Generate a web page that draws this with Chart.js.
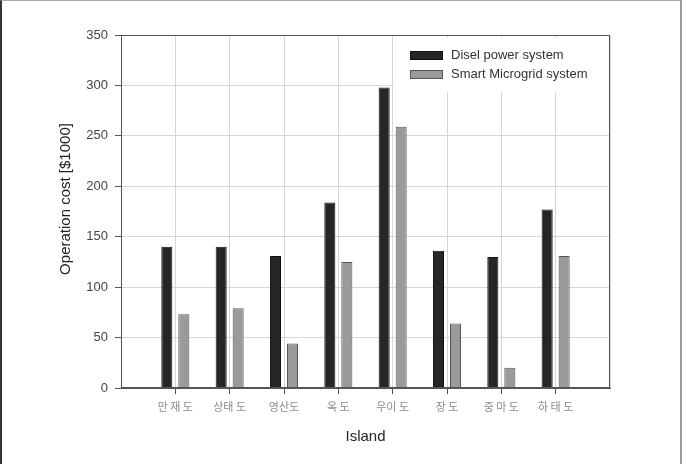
<!DOCTYPE html>
<html>
<head>
<meta charset="utf-8">
<script src="https://cdn.jsdelivr.net/npm/chart.js@4"></script>
<style>
  body { margin: 0; background: #fff; }
  #wrap { position: relative; width: 687px; height: 464px; }
  #frame {
    position: absolute; left: 0; top: 0; width: 682px; height: 464px;
    box-sizing: border-box; pointer-events: none;
    border-left: 2px solid #333; border-top: 1px solid #aaa; border-right: 2px solid #999;
  }
</style>
</head>
<body>
<div id="wrap">
  <canvas id="chart" width="687" height="464"></canvas>
  <div id="frame"></div>
</div>
<script>
const islands = ["만 재 도", "상태 도", "영산도", "옥 도", "우이 도", "장 도", "중 마 도", "하 태 도"];
const diselCost = [140, 140, 131, 184, 298, 136, 130, 177];
const microgridCost = [73, 79, 44, 125, 259, 64, 20, 131];
const seriesNames = ["Disel power system", "Smart Microgrid system"];
const yMin = 0;
const yMax = 350;
const yStep = 50;

const FONT = "'Liberation Sans', Arial, sans-serif";

function toPoints(values) {
  return values.map((v, i) => ({ x: i + 1, y: v }));
}

// legend sits inside the plot, top right, on a white patch over the grid
const insideLegend = {
  id: "insideLegend",
  afterDatasetsDraw(chart) {
    const ctx = chart.ctx;
    const area = chart.chartArea;
    ctx.save();
    ctx.fillStyle = "#fff";
    ctx.fillRect(394, area.top + 3, area.right - 394 - 1, 54);

    ctx.font = "13px " + FONT;
    ctx.textBaseline = "middle";
    chart.data.datasets.forEach((ds, i) => {
      const y = 55.5 + i * 19;
      ctx.fillStyle = ds.backgroundColor;
      ctx.strokeStyle = ds.borderColor;
      ctx.lineWidth = 1;
      ctx.fillRect(410, y - 4.5, 33, 9);
      ctx.strokeRect(410.5, y - 4, 32, 8);
      ctx.fillStyle = "#333";
      ctx.fillText(ds.label, 451, y);
    });

    // box round the plot
    ctx.strokeStyle = "#555";
    ctx.strokeRect(Math.round(area.left) + 0.5, Math.round(area.top) + 0.5,
      Math.round(area.right - area.left) - 1, Math.round(area.bottom - area.top) - 1);
    ctx.restore();
  }
};

new Chart(document.getElementById("chart"), {
  type: "bar",
  data: {
    datasets: [
      {
        label: seriesNames[0],
        data: toPoints(diselCost),
        backgroundColor: "#262626",
        borderColor: "#111",
        borderWidth: 1,
        barPercentage: 0.65,
        categoryPercentage: 0.626
      },
      {
        label: seriesNames[1],
        data: toPoints(microgridCost),
        backgroundColor: "#9a9a9a",
        borderColor: "#555",
        borderWidth: 1,
        barPercentage: 0.65,
        categoryPercentage: 0.626
      }
    ]
  },
  options: {
    responsive: false,
    animation: false,
    layout: { padding: { top: 35, right: 77, left: 0, bottom: 0 } },
    plugins: {
      legend: { display: false },
      tooltip: { enabled: false }
    },
    scales: {
      x: {
        type: "linear",
        min: 0,
        max: islands.length + 1,
        offset: false,
        grid: {
          offset: false,
          color: "#d6d6d6",
          tickLength: 6,
          tickColor: c => (c.tick && (c.tick.value === 0 || c.tick.value === islands.length + 1)) ? "rgba(0,0,0,0)" : "#555"
        },
        border: { color: "#555" },
        ticks: {
          stepSize: 1,
          autoSkip: false,
          maxRotation: 0,
          padding: 6,
          color: "#8a8a8a",
          font: { family: "'Noto Sans CJK KR', sans-serif", size: 11 },
          callback: v => islands[v - 1] || ""
        },
        title: {
          display: true,
          text: "Island",
          color: "#222",
          font: { family: FONT, size: 15 },
          padding: { top: 0, bottom: 18 }
        },
        afterFit: s => { s.height = 76; }
      },
      y: {
        min: yMin,
        max: yMax,
        grid: { color: "#d6d6d6", tickLength: 6, tickColor: "#555" },
        border: { color: "#555" },
        ticks: {
          stepSize: yStep,
          padding: 7,
          color: "#444",
          font: { family: FONT, size: 13 }
        },
        title: {
          display: true,
          // leading spaces nudge the label up a little, as in the original
          text: "      Operation cost [$1000]",
          color: "#222",
          font: { family: FONT, size: 15 },
          padding: { top: 57, bottom: 0 }
        },
        afterFit: s => { s.width = 121; }
      }
    }
  },
  plugins: [insideLegend]
});
</script>
</body>
</html>
